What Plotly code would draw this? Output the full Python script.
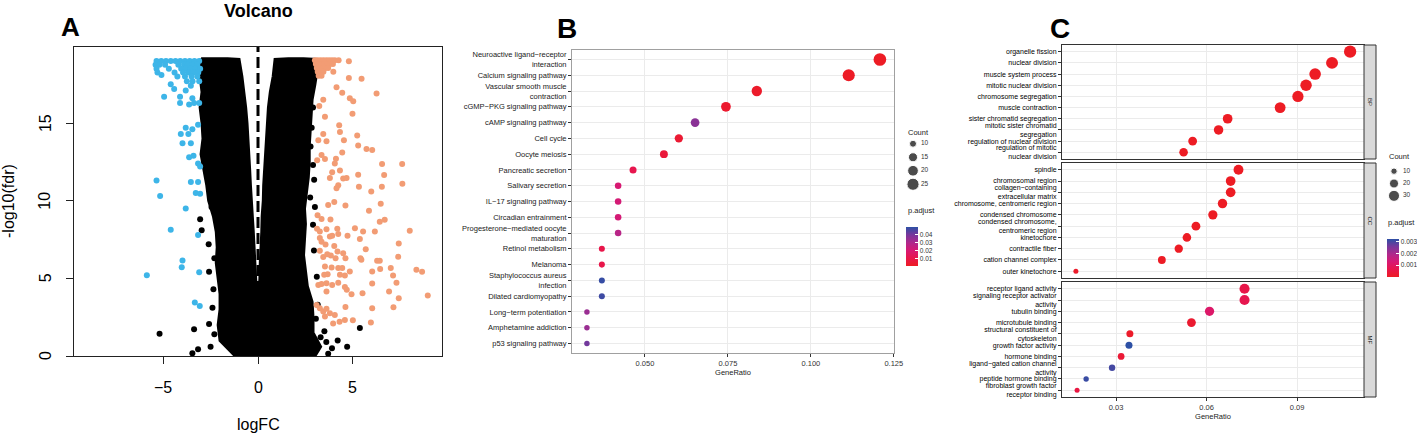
import plotly.graph_objects as go
from plotly.colors import sample_colorscale

W, H = 1417, 434
FONT = "Arial, Liberation Sans, Helvetica, sans-serif"

# ---------------- panel A : volcano ----------------
# outline of the dense cloud of non-significant genes (logFC, -log10 fdr)
cloud_logfc = [-3.0, -3.05, -2.95, -3.05, -2.95, -2.9, -3.0, -2.85, -2.7, -2.6, -2.35, -2.2, -2.15, -2.2,
               -2.1, -2.0, -2.0, -2.1, -2.0, -1.4, -1.2,
               3.0, 3.3, 2.9, 2.9, 2.85, 2.6, 2.5, 2.4, 2.45, 2.5, 2.45, 2.55, 2.65, 2.7, 2.7, 2.75, 2.8,
               2.85, 3.0, 3.1, 3.1,
               2.4, 1.6, 0.9,
               0.8, 0.65, 0.55, 0.5, 0.42, 0.38, 0.35, 0.3, 0.28, 0.22, 0.2, 0.15, 0.12, 0.1, 0.06, 0.03, 0.0,
               -0.04, -0.08, -0.1, -0.14, -0.18, -0.25, -0.3, -0.36, -0.4, -0.44, -0.48, -0.52, -0.58, -0.65,
               -0.75, -0.85, -1.0,
               -1.6, -2.4, -3.0]
cloud_fdr = [19.15, 18.0, 17.0, 16.0, 15.0, 14.0, 13.0, 12.0, 11.0, 10.0, 9.0, 8.0, 7.0, 6.0,
             5.0, 4.0, 3.0, 2.0, 1.0, 0.3, 0.0,
             0.0, 0.6, 1.5, 2.5, 3.5, 4.5, 5.5, 6.5, 7.5, 8.5, 9.5, 10.5, 11.5, 12.5, 13.5, 14.5, 15.5,
             16.5, 17.5, 18.3, 19.1,
             19.15, 19.15, 19.1,
             18.0, 17.0, 16.0, 15.0, 14.0, 13.0, 12.0, 11.0, 10.0, 9.0, 8.0, 7.0, 6.0, 5.0, 4.0, 3.0, 2.4,
             3.0, 4.0, 5.0, 6.0, 7.0, 8.0, 9.0, 10.0, 11.0, 12.0, 13.0, 14.0, 15.0, 16.0,
             17.0, 18.0, 19.1,
             19.15, 19.15, 19.15]

# non-significant genes lying outside the dense cloud
ns_logfc = [-5.19, -3.37, -3.16, -3.46, -2.58, -2.58, -3.05, -2.97, -2.6, -2.45, -2.35, -2.4, -2.3, -2.5,
            -2.3, -2.2, 2.77, 2.9, 2.83, 2.96, 2.9, 3.0, 2.95, 3.1, 3.15, 3.3, 3.6, 3.9, 4.2, 3.5, 4.7,
            5.37, 3.7, 2.9, 2.75, 3.05]
ns_fdr = [1.44, 1.73, 0.43, 0.17, 5.42, 2.06, 8.8, 8.1, 7.2, 9.6, 4.3, 3.1, 1.4, 0.6,
          6.3, 11.6, 13.5, 16.0, 14.7, 11.35, 8.45, 9.6, 6.8, 5.1, 3.3, 1.2, 0.9, 0.5, 1.0, 1.6, 0.6,
          1.8, 0.15, 12.3, 10.2, 2.4]

# down-regulated genes
down_logfc = [-5.35, -5.1, -4.85, -4.6, -4.35, -4.1, -3.85, -3.6, -3.35, -3.1,
              -5.4, -5.2, -4.9, -4.2, -3.9, -3.7, -3.45, -3.2,
              -5.35, -4.7, -4.05, -3.8, -3.55, -3.3, -3.05,
              -5.3, -4.4, -3.95, -3.65, -3.4, -3.15,
              -4.25, -3.85, -3.5, -3.2,
              -3.75, -3.45, -3.1,
              -5.09, -4.6, -4.42, -4.95, -4.11, -4.11, -3.63, -3.37, -3.1, -3.46, -3.81, -3.54,
              -3.16, -3.81, -3.46, -4.07, -3.67, -3.98, -3.54, -3.4, -3.63, -3.16, -3.05, -5.35,
              -3.54, -3.16, -5.16, -3.28, -3.05, -3.81, -4.6, -3.16, -3.98, -4.02, -3.1, -5.86,
              -3.33, -3.07]
down_fdr = [19.0, 19.0, 19.0, 19.0, 19.0, 19.0, 19.0, 19.0, 19.0, 19.0,
            18.75, 18.75, 18.75, 18.75, 18.75, 18.75, 18.75, 18.75,
            18.5, 18.5, 18.5, 18.5, 18.5, 18.5, 18.5,
            18.25, 18.25, 18.25, 18.25, 18.25, 18.25,
            18.0, 18.0, 18.0, 18.0,
            17.7, 17.7, 17.7,
            18.1, 17.5, 17.2, 16.7, 16.7, 16.3, 16.2, 16.3, 16.3, 16.6, 17.1, 17.4,
            14.9, 14.7, 14.6, 14.3, 14.3, 13.7, 13.7, 12.9, 12.8, 12.4, 12.2, 11.3,
            11.2, 11.2, 10.3, 10.5, 10.45, 9.5, 8.13, 7.8, 6.15, 5.72, 5.4, 5.2,
            3.44, 3.22]

# up-regulated genes
up_logfc = [3.0, 3.15, 3.3, 3.45, 3.6, 3.75, 3.9, 4.05, 4.25,
            3.05, 3.2, 3.35, 3.5, 3.65, 3.8, 3.95,
            3.1, 3.25, 3.4, 3.55, 3.7,
            3.15, 3.3, 3.45,
            3.2, 3.35,
            4.79, 4.79, 5.46, 3.97, 4.14, 4.44, 6.25, 4.84, 5.02, 3.44, 3.23, 4.98, 3.53, 4.28,
            3.44, 4.32, 5.23, 3.18, 3.61, 4.53, 5.28, 5.72, 6.02, 3.35, 4.11, 4.44, 3.12, 3.53,
            4.05, 4.32, 6.54, 7.6, 3.91, 3.79, 4.49, 4.67, 5.28, 6.65, 4.23, 4.14, 5.32, 5.97,
            6.53, 7.61, 3.7, 4.02, 4.61, 5.85, 6.47, 3.14, 3.35, 3.82, 6.42, 6.68, 3.11, 3.26,
            3.61, 4.18, 5.11, 5.54, 6.16, 8.0, 3.26, 3.79, 3.91, 4.23, 4.72, 5.37, 3.35, 3.56,
            4.02, 7.42, 3.26, 3.84, 4.19, 4.49, 5.68, 3.44, 3.65, 4.09, 4.61, 5.4, 5.45, 6.28,
            6.42, 7.39, 3.53, 3.88, 4.23, 4.44, 3.49, 3.67, 4.32, 4.58, 4.84, 6.02, 6.44, 7.0,
            8.35, 8.65, 7.12, 3.18, 3.35, 3.61, 3.91, 4.23, 4.58, 3.61, 4.68, 4.93, 5.51, 6.02,
            7.3, 6.91, 7.42, 8.95, 3.09, 3.26, 3.44, 3.61, 3.79, 3.53, 4.05, 3.96, 4.3, 4.58,
            4.61, 5.0, 6.02, 7.14, 5.95]
up_fdr = [19.05, 19.05, 19.05, 19.05, 19.05, 19.05, 19.05, 19.05, 19.05,
          18.8, 18.8, 18.8, 18.8, 18.8, 18.8, 18.8,
          18.55, 18.55, 18.55, 18.55, 18.55,
          18.3, 18.3, 18.3,
          18.05, 18.05,
          18.99, 17.9, 17.85, 18.3, 17.3, 16.95, 16.9, 16.6, 16.4, 16.5, 16.1, 15.6, 15.4, 14.86,
          14.3, 14.43, 14.2, 13.9, 13.83, 13.9, 13.55, 13.33, 13.27, 12.95, 12.7, 13.1, 12.6, 12.68,
          12.4, 11.94, 12.36, 12.36, 11.83, 11.46, 11.43, 11.46, 11.67, 11.65, 11.0, 10.8, 10.9, 10.6,
          10.9, 11.1, 9.72, 9.91, 9.7, 9.35, 9.8, 9.07, 8.83, 8.79, 8.64, 8.77, 8.19, 8.02,
          8.17, 8.19, 8.23, 8.02, 8.02, 8.06, 7.6, 7.69, 7.75, 7.85, 7.75, 7.53, 7.35, 7.18,
          7.08, 7.25, 6.78, 6.47, 6.73, 6.62, 6.88, 6.37, 6.56, 6.3, 6.3, 6.3, 6.2, 6.13,
          6.13, 6.39, 5.77, 5.7, 5.66, 5.66, 5.23, 5.27, 5.23, 5.18, 5.44, 5.44, 5.61, 5.66,
          5.55, 5.42, 5.18, 4.58, 4.63, 4.69, 4.58, 4.71, 4.45, 4.15, 4.26, 3.98, 4.04, 4.67,
          4.71, 4.15, 3.72, 3.89, 3.29, 3.08, 2.86, 3.04, 2.75, 2.54, 2.64, 2.1, 2.2, 2.32,
          3.15, 2.3, 3.08, 3.14, 2.15]
volcano_xticks = [-5, 0, 5]
volcano_yticks = [0, 5, 10, 15]

# ---------------- panel B : KEGG dot plot ----------------
kegg_terms = ["Neuroactive ligand−receptor<br>interaction", "Calcium signaling pathway",
              "Vascular smooth muscle<br>contraction", "cGMP−PKG signaling pathway",
              "cAMP signaling pathway", "Cell cycle", "Oocyte meiosis", "Pancreatic secretion",
              "Salivary secretion", "IL−17 signaling pathway", "Circadian entrainment",
              "Progesterone−mediated oocyte<br>maturation", "Retinol metabolism", "Melanoma",
              "Staphylococcus aureus<br>infection", "Dilated cardiomyopathy",
              "Long−term potentiation", "Amphetamine addiction", "p53 signaling pathway"]
kegg_ratio = [0.1208, 0.1114, 0.0837, 0.0744, 0.0651, 0.0602, 0.0557, 0.0464, 0.0419, 0.0419,
              0.0419, 0.0419, 0.0370, 0.0370, 0.0370, 0.0370, 0.0325, 0.0325, 0.0325]
kegg_count = [27, 25, 19, 17, 14, 13, 12, 10, 9, 9, 9, 9, 8, 8, 8, 8, 7, 7, 7]
kegg_padj = [0.0005, 0.0008, 0.002, 0.003, 0.037, 0.004, 0.006, 0.011, 0.020, 0.021, 0.021,
             0.028, 0.010, 0.010, 0.049, 0.048, 0.034, 0.034, 0.041]
kegg_count_breaks = [10, 15, 20, 25]
kegg_padj_limits = [0.0002, 0.0502]

# ---------------- panel C : GO dot plot (faceted) ----------------
bp_terms = ["organelle fission", "nuclear division", "muscle system process", "mitotic nuclear division",
            "chromosome segregation", "muscle contraction", "sister chromatid segregation",
            "mitotic sister chromatid<br>segregation", "regulation of nuclear division",
            "regulation of mitotic<br>nuclear division"]
bp_ratio = [0.1076, 0.1016, 0.0960, 0.0930, 0.0903, 0.0844, 0.0670, 0.0640, 0.0554, 0.0524]
bp_count = [37, 35, 33, 32, 31, 29, 23, 22, 19, 18]
bp_padj = [1e-8, 1e-8, 1e-8, 1e-8, 1e-8, 1e-8, 1e-8, 1e-8, 1e-8, 1e-8]

cc_terms = ["spindle", "chromosomal region", "collagen−containing<br>extracellular matrix",
            "chromosome, centromeric region", "condensed chromosome",
            "condensed chromosome,<br>centromeric region", "kinetochore", "contractile fiber",
            "cation channel complex", "outer kinetochore"]
cc_ratio = [0.0706, 0.0680, 0.0680, 0.0653, 0.0621, 0.0565, 0.0535, 0.0508, 0.0452, 0.0167]
cc_count = [24, 23, 23, 22, 21, 19, 18, 17, 15, 6]
cc_padj = [1e-8, 1e-8, 1e-8, 1e-8, 1e-8, 1e-8, 1e-8, 1e-8, 2e-5, 1e-4]

mf_terms = ["receptor ligand activity", "signaling receptor activator<br>activity", "tubulin binding",
            "microtubule binding", "structural constituent of<br>cytoskeleton", "growth factor activity",
            "hormone binding", "ligand−gated cation channel<br>activity", "peptide hormone binding",
            "fibroblast growth factor<br>receptor binding"]
mf_ratio = [0.0726, 0.0726, 0.0610, 0.0550, 0.0346, 0.0343, 0.0317, 0.0287, 0.0201, 0.0171]
mf_count = [25, 25, 21, 19, 12, 12, 11, 10, 7, 6]
mf_padj = [0.0006, 0.0007, 0.0011, 0.0002, 0.0001, 0.0032, 0.0003, 0.0030, 0.0031, 0.0005]
go_count_breaks = [10, 20, 30]
go_padj_limits = [0.0, 0.0032]


def px_x(p):
    return p / W


def px_y(p):
    return 1 - p / H


def size_b(c):
    return max(6.55 * c - 15.9, 4) ** 0.5


def size_c(c):
    return (4.06 * c + 0.6) ** 0.5


red_blue = [[0.0, "rgb(237,28,36)"], [0.2, "rgb(232,22,75)"], [0.4, "rgb(215,25,115)"],
            [0.6, "rgb(175,40,140)"], [0.8, "rgb(120,55,155)"], [1.0, "rgb(45,80,165)"]]


def padj_colors(vals, limits):
    lo, hi = limits
    return sample_colorscale(red_blue, [min(max((v - lo) / (hi - lo), 0), 1) for v in vals])


fig = go.Figure()

# volcano
fig.add_trace(go.Scatter(x=cloud_logfc, y=cloud_fdr, mode="lines", fill="toself", fillcolor="black",
                         line=dict(color="black", width=3), xaxis="x", yaxis="y", hoverinfo="skip"))
fig.add_trace(go.Scatter(x=ns_logfc, y=ns_fdr, mode="markers", marker=dict(color="black", size=6),
                         xaxis="x", yaxis="y"))
fig.add_trace(go.Scatter(x=down_logfc, y=down_fdr, mode="markers", marker=dict(color="#3DB5E8", size=6),
                         xaxis="x", yaxis="y"))
fig.add_trace(go.Scatter(x=up_logfc, y=up_fdr, mode="markers", marker=dict(color="#F29C74", size=6),
                         xaxis="x", yaxis="y"))
fig.add_shape(type="line", xref="x", yref="y", x0=0, x1=0, y0=0, y1=19.9,
              line=dict(color="black", width=3, dash="11px,5px"))

# KEGG
fig.add_trace(go.Scatter(x=kegg_ratio, y=kegg_terms, mode="markers", xaxis="x2", yaxis="y2",
                         marker=dict(size=[size_b(c) for c in kegg_count],
                                     color=padj_colors(kegg_padj, kegg_padj_limits),
                                     opacity=1, line=dict(width=0))))
# GO facets
for terms, ratio, count, padj, ax in [(bp_terms, bp_ratio, bp_count, bp_padj, "3"),
                                      (cc_terms, cc_ratio, cc_count, cc_padj, "4"),
                                      (mf_terms, mf_ratio, mf_count, mf_padj, "5")]:
    fig.add_trace(go.Scatter(x=ratio, y=terms, mode="markers", xaxis="x" + ax, yaxis="y" + ax,
                             marker=dict(size=[size_c(c) for c in count],
                                         color=padj_colors(padj, go_padj_limits),
                                         opacity=1, line=dict(width=0))))

# colour bars (empty traces that only carry the colour scale)
fig.add_trace(go.Scatter(x=[None], y=[None], mode="markers", xaxis="x6", yaxis="y6",
                         marker=dict(color=kegg_padj_limits, coloraxis="coloraxis")))
fig.add_trace(go.Scatter(x=[None], y=[None], mode="markers", xaxis="x7", yaxis="y7",
                         marker=dict(color=go_padj_limits, coloraxis="coloraxis2")))

# size legends
fig.add_trace(go.Scatter(x=[7] * len(kegg_count_breaks), y=[str(b) for b in kegg_count_breaks],
                         mode="markers", marker=dict(color="black", size=[size_b(b) for b in kegg_count_breaks]),
                         xaxis="x6", yaxis="y6"))
fig.add_trace(go.Scatter(x=[15] * len(kegg_count_breaks), y=[str(b) for b in kegg_count_breaks],
                         mode="text", text=[str(b) for b in kegg_count_breaks], textposition="middle right",
                         textfont=dict(size=6.5, color="#333"), xaxis="x6", yaxis="y6"))
fig.add_trace(go.Scatter(x=[6] * len(go_count_breaks), y=[str(b) for b in go_count_breaks],
                         mode="markers", marker=dict(color="black", size=[size_c(b) for b in go_count_breaks]),
                         xaxis="x7", yaxis="y7"))
fig.add_trace(go.Scatter(x=[15] * len(go_count_breaks), y=[str(b) for b in go_count_breaks],
                         mode="text", text=[str(b) for b in go_count_breaks], textposition="middle right",
                         textfont=dict(size=6.5, color="#333"), xaxis="x7", yaxis="y7"))

GRID = "#EBEBEB"
dot_x = dict(showgrid=True, gridcolor=GRID, gridwidth=1, zeroline=False, showline=True, mirror=True,
             ticks="outside", ticklen=3, tickcolor="#333", tickfont=dict(size=7.5, color="#333"))
dot_y = dict(type="category", showgrid=True, gridcolor=GRID, gridwidth=1, zeroline=False, showline=True,
             mirror=True, ticks="outside", ticklen=3, tickcolor="#333", tickfont=dict(size=7.5, color="#1a1a1a"))
hidden = dict(visible=False, showgrid=False, zeroline=False, fixedrange=True)
go_range = [0.0121, 0.1122]


def cbar(x, y, length, vals, fmt):
    # plotly keeps a 10 px pad on the left of the bar
    return dict(x=px_x(x - 10), xanchor="left", y=px_y(y), yanchor="middle", lenmode="pixels", len=length,
                thickness=12, outlinewidth=0, tickvals=vals, ticktext=[fmt % v for v in vals],
                ticks="inside", ticklen=3, tickcolor="white", tickfont=dict(size=6.5, color="#333"))


fig.update_layout(
    width=W, height=H, margin=dict(l=0, r=0, t=0, b=0, autoexpand=False),
    paper_bgcolor="white", plot_bgcolor="white", showlegend=False,
    font=dict(family=FONT, color="black"),
    xaxis=dict(domain=[px_x(74), px_x(442)], range=[-9.7, 9.7], tickvals=volcano_xticks, ticks="outside",
               ticklen=7, tickcolor="#222", showline=True, mirror=True, linecolor="#222", linewidth=1,
               showgrid=False, zeroline=False, showticklabels=False, anchor="y"),
    yaxis=dict(domain=[px_y(356), px_y(47)], range=[0, 19.9], tickvals=volcano_yticks,
               ticks="outside", ticklen=7, tickcolor="#222", showline=True, mirror=True, linecolor="#222",
               linewidth=1, showgrid=False, zeroline=False, showticklabels=False, anchor="x"),
    xaxis2=dict(dot_x, domain=[px_x(572), px_x(894)], range=[0.028, 0.12505], dtick=0.025, tick0=0,
                tickformat=".3f", linecolor="#A0A0A0", anchor="y2",
                title=dict(text="GeneRatio", font=dict(size=7.5, color="#1a1a1a"), standoff=2)),
    yaxis2=dict(dot_y, domain=[px_y(353), px_y(50)], categoryorder="array", categoryarray=kegg_terms,
                range=[len(kegg_terms) - 0.4, -0.6], linecolor="#A0A0A0", anchor="x2"),
    xaxis3=dict(dot_x, domain=[px_x(1062), px_x(1364)], range=go_range, dtick=0.03, tick0=0,
                showticklabels=False, ticks="", linecolor="#333", anchor="y3"),
    yaxis3=dict(dot_y, domain=[px_y(159), px_y(45)], categoryorder="array", categoryarray=bp_terms,
                range=[len(bp_terms) - 0.4, -0.6], linecolor="#333", anchor="x3", tickfont=dict(size=7)),
    xaxis4=dict(dot_x, domain=[px_x(1062), px_x(1364)], range=go_range, dtick=0.03, tick0=0,
                showticklabels=False, ticks="", linecolor="#333", anchor="y4"),
    yaxis4=dict(dot_y, domain=[px_y(278), px_y(163)], categoryorder="array", categoryarray=cc_terms,
                range=[len(cc_terms) - 0.4, -0.6], linecolor="#333", anchor="x4", tickfont=dict(size=7)),
    xaxis5=dict(dot_x, domain=[px_x(1062), px_x(1364)], range=go_range, dtick=0.03, tick0=0,
                tickformat=".2f", linecolor="#333", anchor="y5",
                title=dict(text="GeneRatio", font=dict(size=7.5, color="#1a1a1a"), standoff=2)),
    yaxis5=dict(dot_y, domain=[px_y(397), px_y(282)], categoryorder="array", categoryarray=mf_terms,
                range=[len(mf_terms) - 0.4, -0.6], linecolor="#333", anchor="x5", tickfont=dict(size=7)),
    xaxis6=dict(hidden, domain=[px_x(906), px_x(950)], range=[0, 44], anchor="y6"),
    yaxis6=dict(hidden, domain=[px_y(191), px_y(137)], type="category",
                categoryarray=[str(b) for b in kegg_count_breaks], categoryorder="array",
                range=[len(kegg_count_breaks) - 0.5, -0.5], anchor="x6"),
    xaxis7=dict(hidden, domain=[px_x(1388), px_x(1417)], range=[0, 29], anchor="y7"),
    yaxis7=dict(hidden, domain=[px_y(202), px_y(165)], type="category",
                categoryarray=[str(b) for b in go_count_breaks], categoryorder="array",
                range=[len(go_count_breaks) - 0.5, -0.5], anchor="x7"),
    coloraxis=dict(colorscale=red_blue, cmin=kegg_padj_limits[0], cmax=kegg_padj_limits[1],
                   colorbar=cbar(906, 246.5, 59, [0.01, 0.02, 0.03, 0.04], "%.2f")),
    coloraxis2=dict(colorscale=red_blue, cmin=go_padj_limits[0], cmax=go_padj_limits[1],
                    colorbar=cbar(1387, 258, 58, [0.001, 0.002, 0.003], "%.3f")),
)

# facet strips
for label, top, bot in [("BP", 45, 159), ("CC", 163, 278), ("MF", 282, 397)]:
    fig.add_shape(type="rect", xref="paper", yref="paper", x0=px_x(1364), x1=px_x(1376),
                  y0=px_y(bot), y1=px_y(top), fillcolor="#D9D9D9", line=dict(color="#333", width=1))
    fig.add_annotation(text=label, xref="paper", yref="paper", x=px_x(1370), y=px_y((top + bot) / 2),
                       xanchor="center", yanchor="middle", showarrow=False, textangle=90,
                       font=dict(size=6, color="#1a1a1a"))

# volcano tick labels (base-R style, set further from the axis)
for v in volcano_xticks:
    fig.add_annotation(text=str(v).replace("-", "−"), xref="x", yref="paper", x=v, y=px_y(387),
                       xanchor="center", yanchor="middle", showarrow=False, font=dict(size=16, color="black"))
for v in volcano_yticks:
    fig.add_annotation(text=str(v), xref="paper", yref="y", x=px_x(45), y=v, textangle=-90,
                       xanchor="center", yanchor="middle", showarrow=False, font=dict(size=16, color="black"))

notes = [
    ("Volcano", 258, 11, 18, True, 0),
    ("A", 70, 27, 26, True, 0),
    ("B", 567, 29, 28, True, 0),
    ("C", 1060, 29, 28, True, 0),
    ("logFC", 258, 424, 16, False, 0),
    ("-log10(fdr)", 9, 201, 16, False, -90),
]
for text, x, y, size, bold, ang in notes:
    fig.add_annotation(text="<b>%s</b>" % text if bold else text, xref="paper", yref="paper",
                       x=px_x(x), y=px_y(y), xanchor="center", yanchor="middle", showarrow=False,
                       textangle=ang, font=dict(size=size, color="black"))

for text, x, y in [("Count", 906, 132), ("p.adjust", 906, 210), ("Count", 1387, 157), ("p.adjust", 1386, 222)]:
    fig.add_annotation(text=text, xref="paper", yref="paper", x=px_x(x), y=px_y(y), xanchor="left",
                       yanchor="middle", showarrow=False, font=dict(size=7.5, color="#1a1a1a"))

fig.write_html("out.html", config={"displayModeBar": False},
               post_script="document.body.style.margin = '0';")
